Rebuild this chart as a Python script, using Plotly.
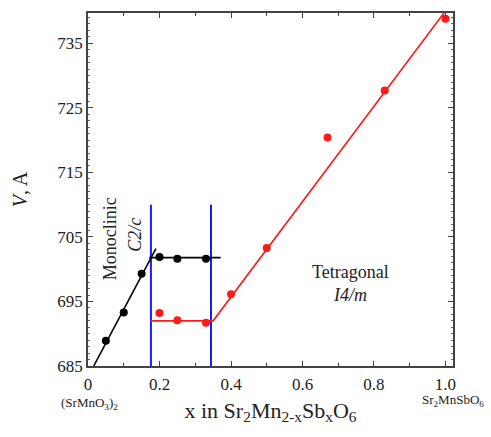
import plotly.graph_objects as go

# Data
black_x = [0.05, 0.10, 0.15, 0.20, 0.25, 0.33]
black_y = [688.9, 693.3, 699.3, 701.9, 701.6, 701.6]

red_x = [0.20, 0.25, 0.33, 0.40, 0.50, 0.67, 0.83, 1.00]
red_y = [693.2, 692.1, 691.7, 696.1, 703.3, 720.4, 727.7, 738.8]

# Guide / fit lines
mono_fit_x = [0.016, 0.19]
mono_fit_y = [685.0, 703.2]
mono_flat_x = [0.171, 0.371]
mono_flat_y = [701.8, 701.8]
tet_fit_x = [0.176, 0.35, 0.997]
tet_fit_y = [692.0, 692.0, 739.8]
phase_bounds = [0.176, 0.344]
bound_top = 710

x_ticks = [0, 0.2, 0.4, 0.6, 0.8, 1.0]
x_tick_labels = ["0", "0.2", "0.4", "0.6", "0.8", "1.0"]
y_ticks = [685, 695, 705, 715, 725, 735]

FONT = "Liberation Serif, Times New Roman, serif"
TXT = "#222"

fig = go.Figure()

for xb in phase_bounds:
    fig.add_trace(go.Scatter(x=[xb, xb], y=[685, bound_top], mode="lines",
                             line=dict(color="#1a1aff", width=2), showlegend=False))

fig.add_trace(go.Scatter(x=mono_fit_x, y=mono_fit_y, mode="lines",
                         line=dict(color="black", width=1.6), showlegend=False))
fig.add_trace(go.Scatter(x=mono_flat_x, y=mono_flat_y, mode="lines",
                         line=dict(color="black", width=1.6), showlegend=False))
fig.add_trace(go.Scatter(x=tet_fit_x, y=tet_fit_y, mode="lines",
                         line=dict(color="#ff1a1a", width=1.6), showlegend=False))

fig.add_trace(go.Scatter(x=black_x, y=black_y, mode="markers",
                         marker=dict(color="black", size=8), showlegend=False))
fig.add_trace(go.Scatter(x=red_x, y=red_y, mode="markers",
                         marker=dict(color="#ff1a1a", size=8), showlegend=False))

annots = [
    dict(x=0.0615, y=704.8, text="Monoclinic", textangle=-90),
    dict(x=0.131, y=705.3, text="<i>C2/c</i>", textangle=-90),
    dict(x=0.733, y=699.6, text="Tetragonal"),
    dict(x=0.733, y=696.0, text="<i>I4/m</i>"),
]
for a in annots:
    fig.add_annotation(xref="x", yref="y", showarrow=False,
                       font=dict(family=FONT, color=TXT, size=18),
                       x=a["x"], y=a["y"], text=a["text"], textangle=a.get("textangle", 0))

fig.add_annotation(xref="paper", yref="paper", x=0.003, y=-0.106, xanchor="center",
                   yanchor="middle", showarrow=False,
                   text="(SrMnO<sub>3</sub>)<sub>2</sub>",
                   font=dict(family=FONT, size=13, color=TXT))
fig.add_annotation(xref="paper", yref="paper", x=1.0, y=-0.097, xanchor="center",
                   yanchor="middle", showarrow=False,
                   text="Sr<sub>2</sub>MnSbO<sub>6</sub>",
                   font=dict(family=FONT, size=13, color=TXT))

axis_common = dict(showline=True, linecolor="#444", linewidth=1.5, mirror="allticks",
                   ticks="inside", ticklen=5, tickcolor="#444", showgrid=False,
                   zeroline=False, automargin=False,
                   tickfont=dict(family=FONT, size=17, color=TXT))

fig.update_xaxes(range=[0, 1.021], tickvals=x_ticks, ticktext=x_tick_labels,
                 ticklabelstandoff=2,
                 minor=dict(dtick=0.1, tick0=0, ticks="inside", ticklen=3, tickcolor="#444"),
                 title=dict(text="x in Sr<sub>2</sub>Mn<sub>2-x</sub>Sb<sub>x</sub>O<sub>6</sub>",
                            font=dict(family=FONT, size=22, color=TXT), standoff=9),
                 **axis_common)
fig.update_yaxes(range=[685, 739.7], tickvals=y_ticks,
                 minor=dict(dtick=1, tick0=685, ticks="inside", ticklen=2.5, tickcolor="#666"),
                 title=dict(text="<i>V</i>, A", font=dict(family=FONT, size=20, color=TXT),
                            standoff=24),
                 **axis_common)

fig.update_layout(width=491, height=437, margin=dict(l=88, r=38, t=13, b=71),
                  plot_bgcolor="white", paper_bgcolor="white")

fig.write_html("out.html")
